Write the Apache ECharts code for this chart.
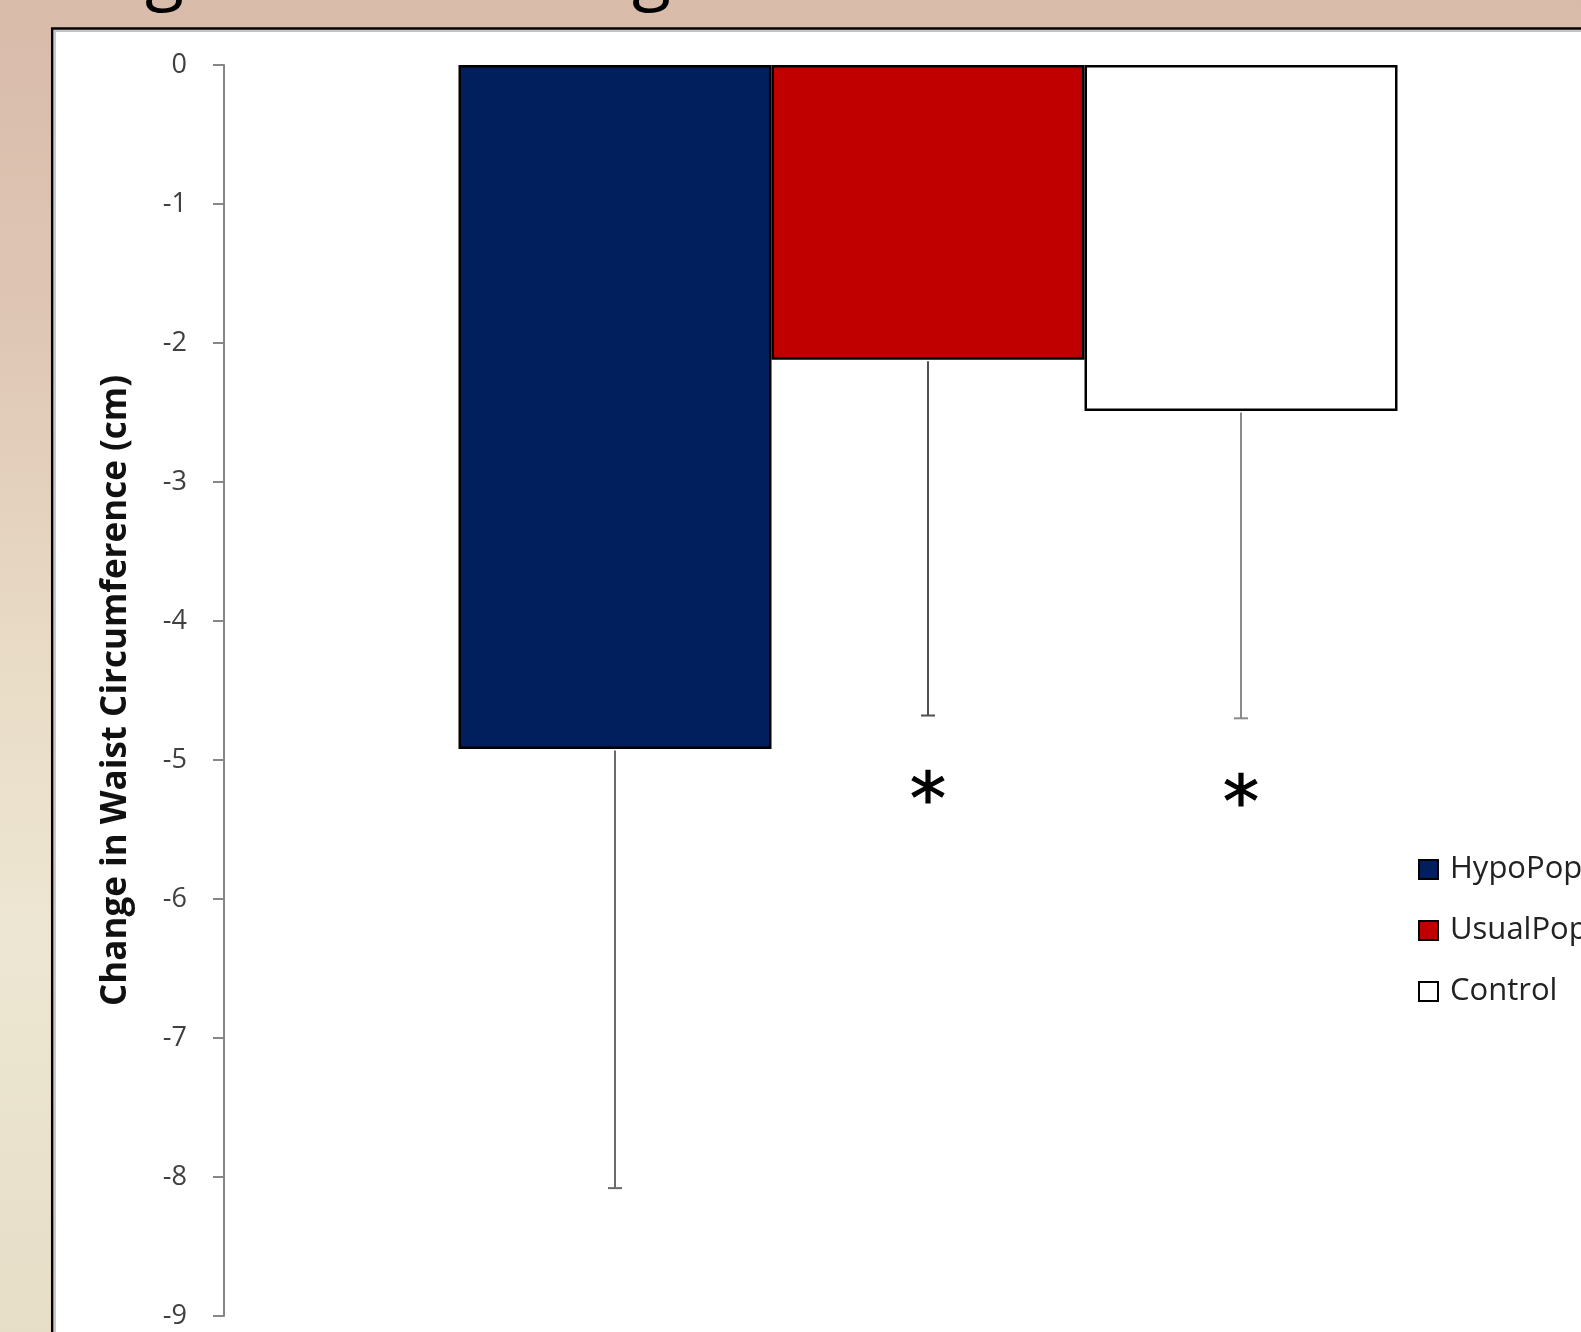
<!DOCTYPE html>
<html><head><meta charset="utf-8">
<script src="https://cdn.jsdelivr.net/npm/echarts@6/dist/echarts.min.js"></script>
<style>html,body{margin:0;padding:0;overflow:hidden;background:#fff}#c{width:1581px;height:1332px}</style>
</head><body><div id="c"></div><script>
// ---- data ----
const categories = [''];
const seriesNames = ['HypoPop', 'UsualPop', 'Control'];
const meanChange = [-4.92, -2.12, -2.49];
const errDown = [3.16, 2.56, 2.21];
const sigMarks = ['', '*', '*'];
const yMin = -9, yMax = 0, yInterval = 1;
const yAxisTitle = 'Change in Waist Circumference (cm)';
const slideTitle = 'Change in Total Weight';

// ---- styles ----
const barColors = ['#001F5C', '#C00000', '#FFFFFF'];
const errColors = ['#6a6a6a', '#505050', '#8a8a8a'];
const BAR_W = 313;
const FONT = '"Open Sans"';

const chart = echarts.init(document.getElementById('c'), null, {renderer: 'canvas'});

// title placement: the slide title is cut off, only its 'g' descenders show
const mctx = document.createElement('canvas').getContext('2d');
function tw(t, fs) { mctx.font = fs + 'px ' + FONT; return mctx.measureText(t).width; }
const i1 = slideTitle.indexOf('g'), i2 = slideTitle.indexOf('g', i1 + 1);
const d100 = tw(slideTitle.slice(0, i2), 100) - tw(slideTitle.slice(0, i1), 100);
const titleFs = 100 * 487 / d100;
const titleX = 145 - tw(slideTitle.slice(0, i1), titleFs);

const barSeries = seriesNames.map((n, i) => ({
  name: n, type: 'bar', barWidth: BAR_W, barGap: '0%',
  data: [meanChange[i]],
  itemStyle: {color: barColors[i], borderColor: '#000', borderWidth: 2.5},
  emphasis: {disabled: true}, z: 2
}));

const errData = seriesNames.map((n, i) => [0, meanChange[i], errDown[i], i]);

const GRID_L = 300, AXIS_X = 224, CENTER_X = 928;

const option = {
  animation: false,
  graphic: [
    {type: 'rect', z: -20, shape: {x: 0, y: 0, width: 1581, height: 1332},
      style: {fill: new echarts.graphic.LinearGradient(0, 0, 0, 1, [
        {offset: 0, color: '#D9BBAA'}, {offset: 0.25, color: '#DFC7B5'},
        {offset: 0.5, color: '#E9DCC7'}, {offset: 0.7, color: '#EDE6D2'},
        {offset: 1, color: '#E6DEC7'}])}},
    {type: 'text', z: -15, style: {text: slideTitle, x: titleX, y: 12, font: titleFs + 'px ' + FONT,
      fill: '#000', verticalAlign: 'bottom', align: 'left'}},
    {type: 'rect', z: -10, shape: {x: 52.2, y: 28.4, width: 1700, height: 1500},
      style: {fill: '#fff', stroke: '#000', lineWidth: 2.5}},
    {type: 'rect', z: -9, shape: {x: 55, y: 31, width: 1700, height: 1500},
      style: {fill: 'none', stroke: '#c4c4c4', lineWidth: 1.8}}
  ],
  grid: {left: GRID_L, top: 65, bottom: 16, width: 2 * (CENTER_X - GRID_L), containLabel: false},
  legend: {
    data: seriesNames, orient: 'vertical', left: 1418, top: 854, padding: 0,
    icon: 'rect', itemWidth: 19, itemHeight: 19, itemGap: 30,
    itemStyle: {borderColor: '#000', borderWidth: 2},
    textStyle: {fontFamily: FONT, fontSize: 31, color: '#222', padding: [0, 0, 0, 7]},
    selectedMode: false
  },
  xAxis: {type: 'category', data: categories, show: false},
  yAxis: {
    type: 'value', min: yMin, max: yMax, interval: yInterval, offset: GRID_L - AXIS_X,
    name: yAxisTitle, nameLocation: 'middle', nameGap: 90,
    nameTextStyle: {fontFamily: FONT, fontSize: 35, fontWeight: 'bold', color: '#111'},
    axisLine: {show: true, onZero: false, lineStyle: {color: '#868686', width: 2}},
    axisTick: {show: true, length: 11, lineStyle: {color: '#868686', width: 2}},
    axisLabel: {margin: 37, fontFamily: FONT, fontSize: 27, color: '#404040'},
    splitLine: {show: false}
  },
  series: barSeries.concat([{
    type: 'custom', data: errData, encode: {x: 0, y: 1}, z: 3, clip: false,
    silent: true,
    renderItem: function (params, api) {
      const i = api.value(3), m = api.value(1), e = api.value(2);
      const p0 = api.coord([0, m]);
      const p1 = api.coord([0, m - e]);
      const x = p0[0] + (i - 1) * BAR_W;
      const col = errColors[i];
      return {type: 'group', children: [
        {type: 'line', shape: {x1: x, y1: p0[1] + 1.5, x2: x, y2: p1[1]}, style: {stroke: col, lineWidth: 2}},
        {type: 'line', shape: {x1: x - 7, y1: p1[1], x2: x + 7, y2: p1[1]}, style: {stroke: col, lineWidth: 2}},
        {type: 'text', style: {text: sigMarks[i], x: x, y: p1[1] + 89, align: 'center', verticalAlign: 'middle',
          font: '72px "DejaVu Sans"', fill: '#000', stroke: '#000', lineWidth: 1.2}}
      ]};
    }
  }])
};
chart.setOption(option);
</script></body></html>
